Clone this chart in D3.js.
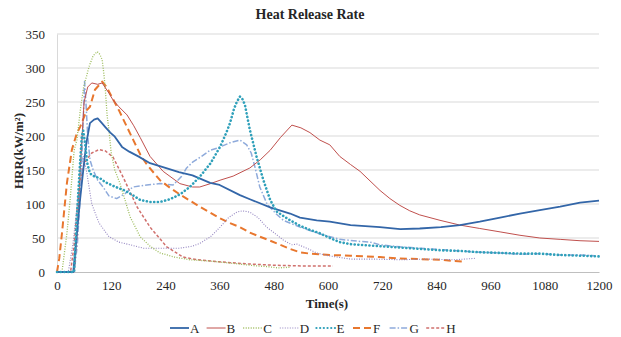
<!DOCTYPE html>
<html>
<head>
<meta charset="utf-8">
<script src="https://cdn.jsdelivr.net/npm/d3@7"></script>
<style>
  body { margin: 0; background: #fff; }
  text { font-family: "Liberation Serif", "Times New Roman", serif; fill: #262626; }
</style>
</head>
<body>
<div id="chart"></div>
<script>
// Heat release rate curves as [time (s), HRR (kW/m²)]
const seriesA = [[0,0],[36,0],[44,57],[51,106],[59,155],[65,190],[73,219],[82,224],[90,226],[98,220],[107,213],[118,205],[128,199],[144,184],[160,177],[180,170],[206,160],[240,153],[270,147],[300,142],[339,131],[360,128],[405,113],[427,107],[472,95],[516,86],[538,80],[575,76],[604,74],[650,69],[715,66],[760,63],[803,64],[850,66],[892,69],[936,74],[981,80],[1025,86],[1069,91],[1114,96],[1158,102],[1200,105]];
const seriesB = [[0,0],[38,0],[45,60],[52,160],[60,250],[68,272],[77,278],[90,276],[100,278],[115,263],[124,253],[137,243],[155,231],[170,215],[184,198],[206,170],[235,148],[272,130],[300,125],[316,125],[340,130],[361,135],[390,141],[427,153],[450,165],[472,179],[495,198],[520,216],[540,212],[560,205],[582,194],[604,187],[626,170],[650,158],[671,148],[693,134],[715,120],[737,108],[759,98],[781,90],[803,84],[848,76],[892,69],[936,64],[981,59],[1025,54],[1069,50],[1114,48],[1158,46],[1200,45]];
const seriesC = [[0,0],[11,0],[22,57],[29,106],[38,179],[44,194],[52,240],[59,272],[71,302],[80,318],[89,324],[95,320],[100,312],[104,290],[107,268],[111,230],[115,209],[120,175],[128,150],[139,131],[162,81],[184,52],[206,38],[228,28],[260,22],[294,18],[340,16],[400,12],[440,9],[465,8],[490,6],[516,7]];
const seriesD = [[0,0],[25,0],[35,40],[45,100],[52,150],[58,170],[65,150],[77,100],[93,72],[115,52],[137,44],[162,40],[191,35],[230,35],[272,35],[300,38],[316,42],[340,52],[361,66],[380,80],[398,88],[410,90],[427,88],[445,80],[464,66],[480,58],[501,47],[520,40],[531,41],[553,35],[575,28],[600,24],[650,19],[700,19],[760,18],[820,19],[880,18],[925,20]];
const seriesE = [[0,0],[38,0],[44,81],[51,160],[55,200],[58,208],[62,190],[67,160],[73,145],[84,140],[95,138],[107,132],[130,125],[150,120],[170,112],[184,106],[206,103],[228,103],[250,107],[272,114],[294,125],[316,140],[340,160],[361,184],[375,205],[383,219],[392,240],[398,250],[405,258],[410,255],[416,246],[427,209],[442,169],[457,135],[472,106],[486,89],[516,76],[538,68],[560,62],[582,57],[604,50],[626,44],[649,41],[671,40],[715,38],[759,36],[803,34],[848,32],[892,31],[936,29],[981,28],[1025,27],[1069,27],[1114,25],[1158,24],[1200,23]];
const seriesF = [[0,0],[5,20],[11,57],[22,131],[33,180],[44,204],[51,213],[66,238],[73,243],[84,268],[100,280],[110,272],[117,263],[137,238],[150,220],[169,194],[185,172],[199,158],[228,135],[250,124],[272,114],[294,105],[316,96],[340,87],[361,79],[383,72],[405,66],[427,58],[449,52],[472,46],[494,40],[516,34],[538,29],[560,27],[604,25],[650,24],[715,22],[759,20],[803,19],[848,18],[903,15]];
const seriesG = [[0,0],[38,0],[45,40],[52,120],[57,200],[61,280],[64,250],[68,200],[73,165],[80,150],[90,135],[102,125],[115,112],[132,108],[150,115],[168,125],[199,128],[228,130],[257,128],[275,140],[287,153],[301,162],[320,170],[339,179],[354,182],[383,190],[405,194],[420,187],[430,175],[438,155],[449,125],[465,100],[486,85],[501,76],[538,66],[582,56],[626,48],[671,45],[693,44],[715,40],[760,37],[803,35],[848,33],[892,31],[936,29],[981,28],[1025,26],[1069,27],[1114,25],[1158,25],[1190,24]];
const seriesH = [[0,0],[30,0],[38,40],[44,90],[55,150],[65,165],[77,175],[93,180],[107,178],[124,169],[146,140],[177,96],[206,66],[243,37],[279,22],[310,18],[360,15],[420,12],[480,10],[540,9],[611,9]];

const seriesNames = ["A", "B", "C", "D", "E", "F", "G", "H"];
const xTicks = [0, 120, 240, 360, 480, 600, 720, 840, 960, 1080, 1200];
const yTicks = [0, 50, 100, 150, 200, 250, 300, 350];

// Excel-like line styles per series
const styles = {
  A: { color: "#3366a8", width: 1.8, dash: null },
  B: { color: "#c0504d", width: 1, dash: null },
  C: { color: "#9bbb59", width: 1.3, dash: "1,1.5" },
  D: { color: "#9384c0", width: 1.1, dash: "1,1.5" },
  E: { color: "#2fa0ba", width: 2.6, dash: "0.1,3.6", cap: "round" },
  F: { color: "#e8772e", width: 2, dash: "7,4" },
  G: { color: "#8eaadb", width: 1.5, dash: "6,2,1.5,2" },
  H: { color: "#d0706d", width: 1.5, dash: "3,2" }
};

const config = {
  width: 621,
  height: 337,
  margin: { top: 34, right: 22, bottom: 65, left: 57 }
};
const innerW = config.width - config.margin.left - config.margin.right;
const innerH = config.height - config.margin.top - config.margin.bottom;

const svg = d3.select("#chart").append("svg")
  .attr("width", config.width)
  .attr("height", config.height);

svg.append("rect").attr("width", config.width).attr("height", config.height).attr("fill", "#fff");

const g = svg.append("g")
  .attr("transform", `translate(${config.margin.left},${config.margin.top})`);

const xScale = d3.scaleLinear().domain([0, 1200]).range([0, innerW]);
const yScale = d3.scaleLinear().domain([0, 350]).range([innerH, 0]);

// Gridlines
g.append("g")
  .selectAll("line")
  .data(yTicks.filter(d => d > 0))
  .join("line")
    .attr("x1", 0)
    .attr("x2", innerW)
    .attr("y1", d => yScale(d))
    .attr("y2", d => yScale(d))
    .attr("stroke", "#d9d9d9")
    .attr("stroke-width", 1);

// Axes
const xAxis = g.append("g")
  .attr("transform", `translate(0,${innerH})`)
  .call(d3.axisBottom(xScale).tickValues(xTicks).tickFormat(d3.format("d")).tickSize(0).tickPadding(9));
xAxis.select(".domain").attr("stroke", "#bfbfbf");
xAxis.selectAll("text").attr("font-size", 13).attr("font-family", "Liberation Serif");

const yAxis = g.append("g")
  .call(d3.axisLeft(yScale).tickValues(yTicks).tickSize(0).tickPadding(12));
yAxis.select(".domain").attr("stroke", "#d9d9d9");
yAxis.selectAll("text").attr("font-size", 13).attr("font-family", "Liberation Serif");

// Lines
const line = d3.line()
  .x(d => xScale(d[0]))
  .y(d => yScale(d[1]));

const allSeries = [seriesA, seriesB, seriesC, seriesD, seriesE, seriesF, seriesG, seriesH];
const drawOrder = [7, 6, 5, 3, 2, 1, 0, 4];

g.append("g")
  .selectAll("path")
  .data(drawOrder.map(i => ({ name: seriesNames[i], values: allSeries[i] })))
  .join("path")
    .attr("d", d => line(d.values))
    .attr("fill", "none")
    .attr("stroke", d => styles[d.name].color)
    .attr("stroke-width", d => styles[d.name].width)
    .attr("stroke-dasharray", d => styles[d.name].dash)
    .attr("stroke-linecap", d => styles[d.name].cap || "butt")
    .attr("stroke-linejoin", "round");

// Titles
svg.append("text")
  .attr("x", 310)
  .attr("y", 19)
  .attr("text-anchor", "middle")
  .attr("font-size", 14)
  .attr("font-weight", "bold")
  .text("Heat Release Rate");

svg.append("text")
  .attr("x", 327)
  .attr("y", 308)
  .attr("text-anchor", "middle")
  .attr("font-size", 13)
  .attr("font-weight", "bold")
  .text("Time(s)");

svg.append("text")
  .attr("transform", "translate(23,151) rotate(-90)")
  .attr("text-anchor", "middle")
  .attr("font-size", 13)
  .attr("font-weight", "bold")
  .text("HRR(kW/m²)");

// Legend
const legend = svg.append("g")
  .attr("transform", "translate(170,328)");

const item = legend.selectAll("g")
  .data(seriesNames)
  .join("g")
    .attr("transform", (d, i) => `translate(${i * 36.6},0)`);

item.append("line")
  .attr("x1", 0)
  .attr("x2", 19)
  .attr("stroke", d => styles[d].color)
  .attr("stroke-width", d => Math.min(styles[d].width, 2.2))
  .attr("stroke-dasharray", d => styles[d].dash)
  .attr("stroke-linecap", d => styles[d].cap || "butt");

item.append("text")
  .attr("x", 20)
  .attr("y", 4.5)
  .attr("font-size", 13)
  .text(d => d);
</script>
</body>
</html>
